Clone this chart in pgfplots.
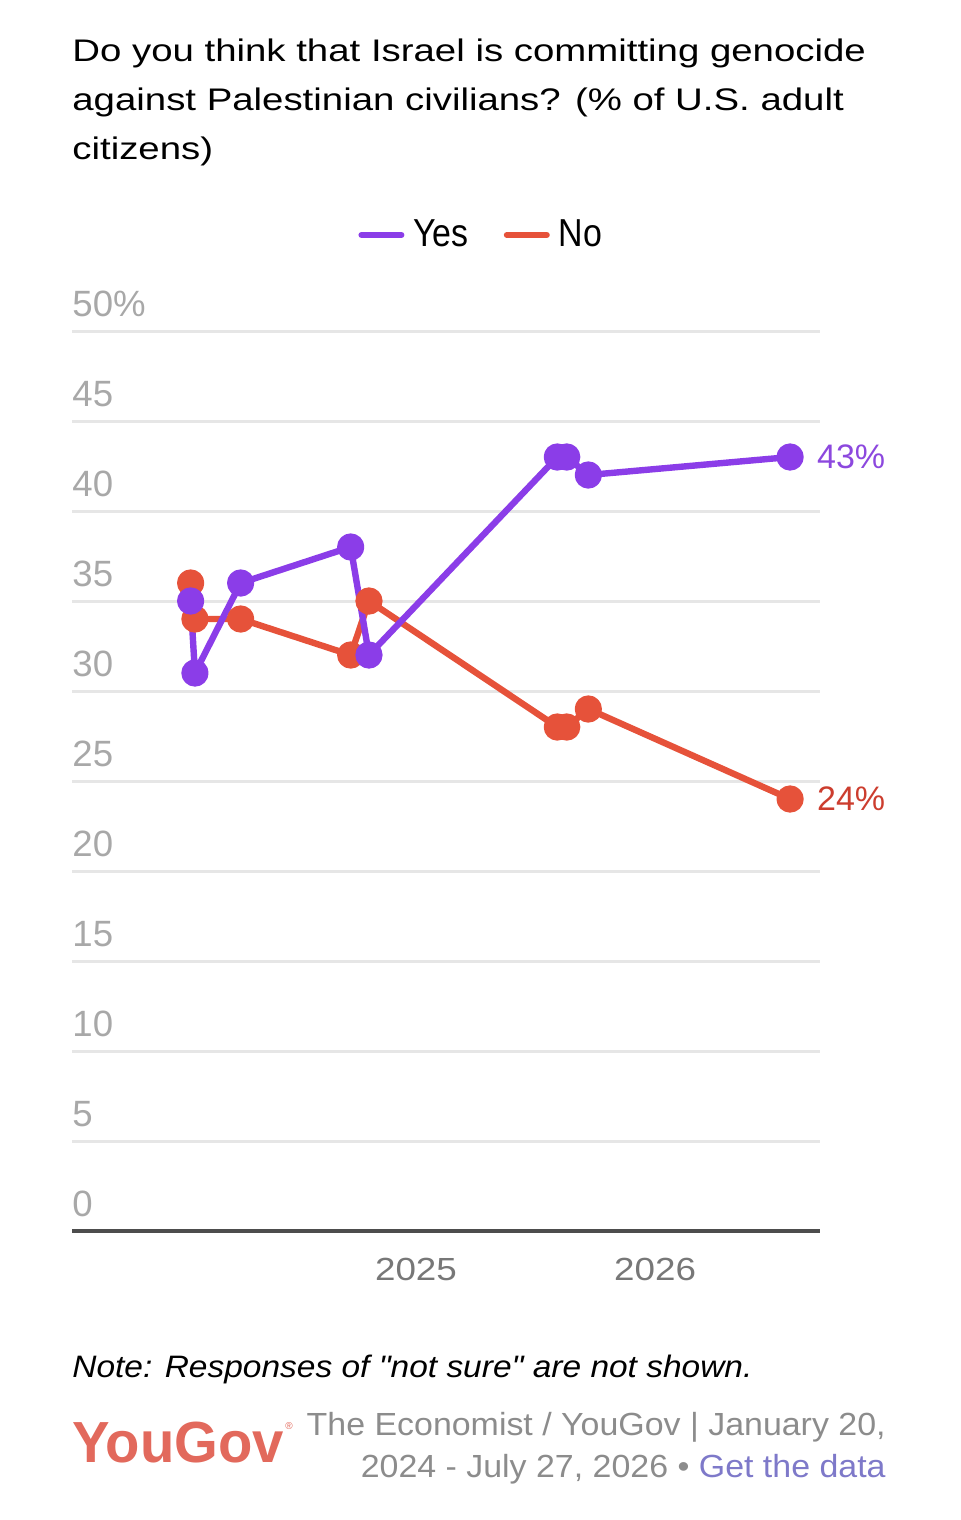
\documentclass[border=0pt]{standalone}
\usepackage{fontspec}
\setmainfont{Liberation Sans}
\newfontfamily\titlefont[FakeStretch=1.23]{Liberation Sans}
\newfontfamily\widefont[FakeStretch=1.15]{Liberation Sans}
\newfontfamily\notefont[FakeStretch=1.08]{Liberation Sans}
\newfontfamily\srcfont[FakeStretch=1.06]{Liberation Sans}
\newfontfamily\legfont[FakeStretch=0.87]{Liberation Sans}
\newfontfamily\logofont[FakeStretch=0.97]{Liberation Sans}
\usepackage{pgfplots}
\pgfplotsset{compat=1.18}
\definecolor{yescol}{HTML}{8B3DE8}
\definecolor{nocol}{HTML}{E6523A}
\definecolor{yeslab}{HTML}{8C48DE}
\definecolor{nolab}{HTML}{CC3D2E}
\definecolor{gridcol}{HTML}{E6E6E6}
\definecolor{zerocol}{HTML}{4D4D4D}
\definecolor{ytk}{HTML}{A8A8A8}
\definecolor{xtk}{HTML}{777777}
\definecolor{srccol}{HTML}{8C8C8C}
\definecolor{linkcol}{HTML}{7E79C9}
\definecolor{ygcol}{HTML}{E2695C}

\pgfplotstableread{
x y
0.0573 35
0.0753 31
0.2665 36
0.7268 38
0.8033 32
1.5912 43
1.6305 43
1.7209 42
2.5649 43
}\yestable
\pgfplotstableread{
x y
0.0573 36
0.0753 34
0.2665 34
0.7268 32
0.8033 35
1.5912 28
1.6305 28
1.7209 29
2.5649 24
}\notable

\begin{document}
\begin{tikzpicture}
\path[use as bounding box] (0,0) rectangle (480pt,-760pt);
\begin{scope}[every node/.style={anchor=base west, inner sep=0pt, font=\titlefont\fontsize{15.6}{18}\selectfont}]
\node at (36pt,-31pt) {Do you think that Israel is committing genocide};
\node at (36pt,-55.5pt) {against Palestinian civilians? (\% of U.S. adult};
\node at (36pt,-80pt) {citizens)};
\end{scope}

\begin{axis}[
  at={(36pt,-615.5pt)}, anchor=south west,
  scale only axis, width=374pt, height=450pt,
  xmin=-0.439, xmax=2.690, ymin=0, ymax=50,
  axis line style={draw=none},
  ytick={0,5,...,50},
  yticklabels={0,5,10,15,20,25,30,35,40,45,50\%},
  xtick={1,2}, xticklabels={2025,2026},
  major tick length=0pt,
  ymajorgrids, major grid style={draw=gridcol, line width=1.5pt},
  yticklabel style={anchor=base west, inner sep=0pt, yshift=7.5pt, font=\fontsize{18.3}{20}\selectfont, text=ytk},
  xticklabel style={anchor=north, inner sep=0pt, yshift=-13.5pt, font=\widefont\fontsize{16}{18}\selectfont, text=xtk},
  clip=false,
  legend columns=2,
  legend style={at={(rel axis cs:0.3824,1.1067)}, anchor=west, draw=none, fill=none, inner sep=0pt,
    font=\legfont\fontsize{19.5}{22}\selectfont,
    /tikz/every odd column/.style={column sep=4.5pt},
    /tikz/every even column/.style={column sep=17.5pt},
    nodes={inner sep=0pt}},
  legend image code/.code={\draw[line width=3pt, line cap=round] (1.5pt,0pt) -- (21.5pt,0pt);},
]
\addlegendimage{yescol, line width=3pt}
\addlegendentry{Yes}
\addlegendimage{nocol, line width=3pt}
\addlegendentry{No}
\draw[draw=zerocol, line width=1.7pt] (rel axis cs:0,0) -- (rel axis cs:1,0);
\addplot[forget plot, nocol, line width=3.2pt, line join=round, mark=*, mark size=5.2pt, mark options={fill=nocol, draw=none}] table[x=x, y=y] {\notable};
\addplot[forget plot, yescol, line width=3.2pt, line join=round, mark=*, mark size=5.2pt, mark options={fill=yescol, draw=none}] table[x=x, y=y] {\yestable};
\node[anchor=west, inner sep=0pt, xshift=13.3pt, text=yeslab, font=\fontsize{17}{20}\selectfont] at (axis cs:2.5649,43) {43\%};
\node[anchor=west, inner sep=0pt, xshift=13.3pt, text=nolab, font=\fontsize{17}{20}\selectfont] at (axis cs:2.5649,24) {24\%};
\end{axis}

\node[anchor=base west, inner sep=0pt, font=\notefont\itshape\fontsize{15.5}{18}\selectfont] at (36pt,-688.5pt) {Note: Responses of "not sure" are not shown.};
\node[anchor=base west, inner sep=0pt, text=ygcol, font=\logofont\bfseries\fontsize{29}{30}\selectfont] at (36pt,-731.3pt) {YouGov};
\node[anchor=center, inner sep=0pt, text=ygcol, font=\fontsize{5}{6}\selectfont] at (144.5pt,-713pt) {®};
\node[anchor=base east, inner sep=0pt, text=srccol, font=\srcfont\fontsize{16}{18}\selectfont] at (443pt,-717.5pt) {The Economist / YouGov | January 20,};
\node[anchor=base east, inner sep=0pt, text=srccol, font=\srcfont\fontsize{16}{18}\selectfont] at (443pt,-738.5pt) {2024 - July 27, 2026 • \textcolor{linkcol}{Get the data}};
\end{tikzpicture}
\end{document}
